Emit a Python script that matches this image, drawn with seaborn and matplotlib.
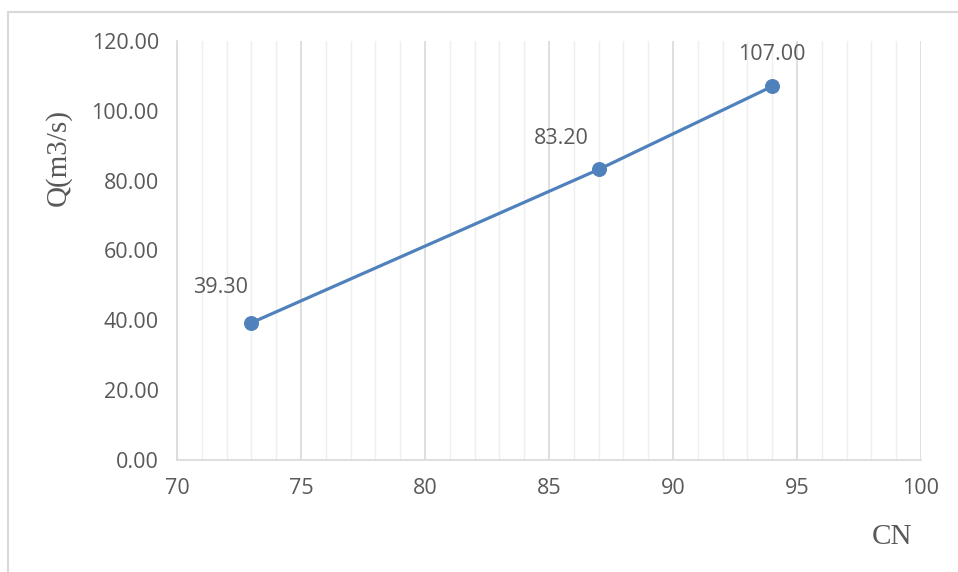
import matplotlib
matplotlib.use("Agg")
import matplotlib.pyplot as plt
from matplotlib.lines import Line2D
from matplotlib.ticker import MultipleLocator
import seaborn as sns
import pandas as pd

cn = [73, 87, 94]
q = [39.30, 83.20, 107.00]
labels = ["39.30", "83.20", "107.00"]
label_offsets = [(-31, 35), (-37, 31), (0, 32)]
xticks = [70, 75, 80, 85, 90, 95, 100]
yticks = [0, 20, 40, 60, 80, 100, 120]

sns.set_style("white")
plt.rcParams['font.family'] = ['Open Sans', 'DejaVu Sans']

df = pd.DataFrame({"CN": cn, "Q": q})

fig = plt.figure(figsize=(9.58, 5.72), dpi=100)
ax = fig.add_axes([177/958, 112/572, (921-177)/958, (460-41)/572])

grid_major = "#d9d9d9"
grid_minor = "#efefef"
txt = "#595959"
blue = "#4f81bd"

ax.set_xlim(70, 100)
ax.set_ylim(0, 120)
ax.xaxis.set_major_locator(MultipleLocator(5))
ax.xaxis.set_minor_locator(MultipleLocator(1))
ax.set_xticks(xticks)
ax.set_yticks(yticks)
ax.set_xticklabels([str(t) for t in xticks])
ax.set_yticklabels([f"{t:.2f}" for t in yticks])
ax.grid(False)
ax.grid(axis="x", which="major", color=grid_major, linewidth=1.2, zorder=0)
ax.grid(axis="x", which="minor", color=grid_minor, linewidth=1.0, zorder=0)
ax.set_axisbelow(True)

for s in ["top", "right"]:
    ax.spines[s].set_visible(False)
for s in ["left", "bottom"]:
    ax.spines[s].set_color(grid_major)
    ax.spines[s].set_linewidth(1.2)

ax.tick_params(axis="both", which="major", direction="out", length=6, width=1.2,
               color=grid_major, labelcolor=txt, labelsize=15.5)
ax.tick_params(axis="x", which="minor", length=0)
ax.tick_params(axis="x", pad=7)
ax.tick_params(axis="y", pad=7)

sns.lineplot(data=df, x="CN", y="Q", ax=ax, color=blue, linewidth=2.3,
             marker="o", markersize=10, markeredgecolor=blue, markerfacecolor=blue,
             zorder=3)

for x, y, lab, off in zip(cn, q, labels, label_offsets):
    ax.annotate(lab, (x, y), xytext=off, textcoords="offset pixels",
                ha="center", va="center", color=txt, fontsize=15.5)

ax.set_xlabel("")
ax.set_ylabel("")
fig.text(58/958, 1 - 158/572, "Q(m3/s)", rotation=90, ha="center", va="center",
         family=["Liberation Serif"], fontsize=21, color=txt)
fig.text(892/958, 1 - 537/572, "CN", ha="center", va="center",
         family=["Liberation Serif"], fontsize=21, color=txt)

# outer chart frame (left and top edges visible)
fig.add_artist(Line2D([8/958, 8/958], [0, 1 - 12/572], transform=fig.transFigure,
                      color="#d9d9d9", linewidth=1.5))
fig.add_artist(Line2D([8/958, 1], [1 - 12/572, 1 - 12/572], transform=fig.transFigure,
                      color="#d9d9d9", linewidth=1.5))

fig.savefig("out.png", dpi=100)
